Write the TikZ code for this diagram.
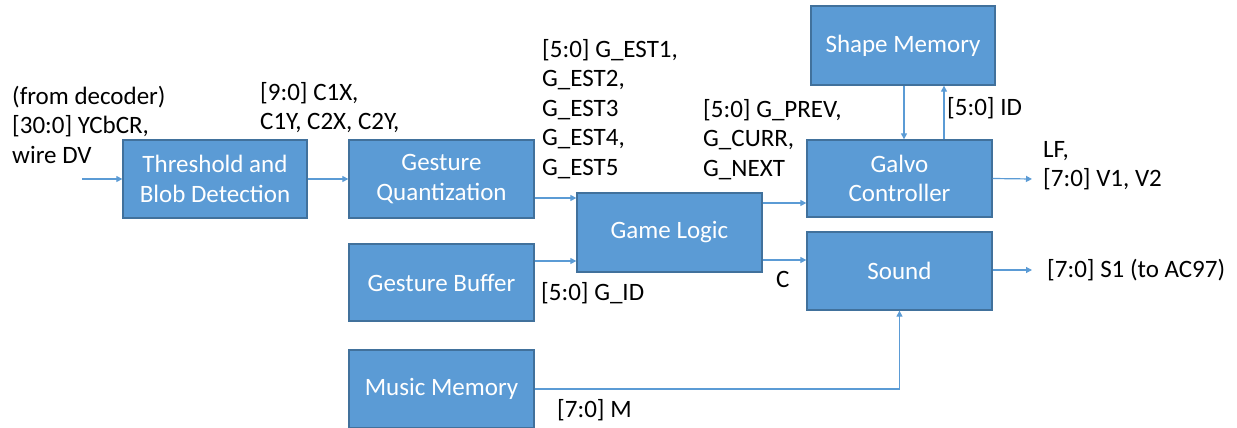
\documentclass[tikz,border=0pt]{standalone}
\usepackage{fontspec}
\setmainfont{Carlito}
\usetikzlibrary{arrows.meta}
\definecolor{boxfill}{HTML}{5B9BD5}
\definecolor{boxline}{HTML}{41719C}
\definecolor{arrcol}{HTML}{5B9BD5}
\begin{document}
\begin{tikzpicture}[x=1pt,y=-1pt,
  blk/.style={draw=boxline, line width=1.3pt, fill=boxfill, text=white, align=center,
    font=\fontsize{25}{29.5}\selectfont, inner sep=0pt},
  arr/.style={draw=arrcol, line width=1.2pt, -{Triangle[width=6pt,length=6pt]}},
  lbl/.style={anchor=north west, align=left, inner sep=0pt, font=\fontsize{25}{29.5}\selectfont}]
\useasboundingbox (0,0) rectangle (1237,428);
% boxes
\node[blk, minimum width=184pt, minimum height=78pt] (tb) at (215,179) {Threshold and\\Blob Detection};
\node[blk, minimum width=185pt, minimum height=78pt] (gq) at (441.5,179) {Gesture\\Quantization};
\node[blk, minimum width=185pt, minimum height=77pt] (gb) at (441.5,282.5) {Gesture Buffer};
\node[blk, minimum width=185pt, minimum height=78pt] (mm) at (441.5,389) {Music Memory};
\node[blk, minimum width=185pt, minimum height=79pt] (gl) at (669.5,232.5) {Game Logic};
\node[blk, minimum width=184pt, minimum height=79pt] (sm) at (903,45.5) {Shape Memory};
\node[blk, minimum width=185pt, minimum height=77pt] (gc) at (899.5,178.5) {Galvo\\Controller};
\node[blk, minimum width=185pt, minimum height=78pt] (so) at (899.5,271) {Sound};
% free ends
\coordinate (in) at (82,179);
\coordinate (o1) at (1032,179);
\coordinate (o2) at (1032,270);
% connectors
\draw[arr] (in) -- (tb.west);
\draw[arr] (tb.east) -- (gq.west);
\draw[arr] (gq.east |- 0,198) -- (gl.west |- 0,198);
\draw[arr] (gb.east |- 0,261) -- (gl.west |- 0,261);
\draw[arr] (gl.east |- 0,203) -- (gc.west |- 0,203);
\draw[arr] (gl.east |- 0,260) -- (so.west |- 0,260);
\draw[arr] (sm.south -| 904,0) -- (gc.north -| 904,0);
\draw[arr] (gc.north -| 944,0) -- (sm.south -| 944,0);
\draw[arr] (gc.east) -- (o1);
\draw[arr] (so.east |- o2) -- (o2);
\draw[arr] (mm.east) -| (so.south);
% labels
\node[lbl] (l1) at (12,86) {(from decoder)\\{}[30:0] YCbCR,\\wire DV};
\node[lbl] (l2) at (260,82) {{}[9:0] C1X,\\C1Y, C2X, C2Y,};
\node[lbl] (l3) at (542,39) {{}[5:0] G\_EST1,\\G\_EST2,\\G\_EST3\\G\_EST4,\\G\_EST5};
\node[lbl] (l4) at (703,99) {{}[5:0] G\_PREV,\\G\_CURR,\\G\_NEXT};
\node[lbl] (l5) at (541,282) {{}[5:0] G\_ID};
\node[lbl] (l6) at (776,271) {C};
\node[lbl] (l7) at (947,97) {{}[5:0] ID};
\node[lbl] (l8) at (1043,141) {LF,\\{}[7:0] V1, V2};
\node[lbl] (l9) at (1047,259) {{}[7:0] S1 (to AC97)};
\node[lbl] (l10) at (557,399) {{}[7:0] M};
\end{tikzpicture}
\end{document}
